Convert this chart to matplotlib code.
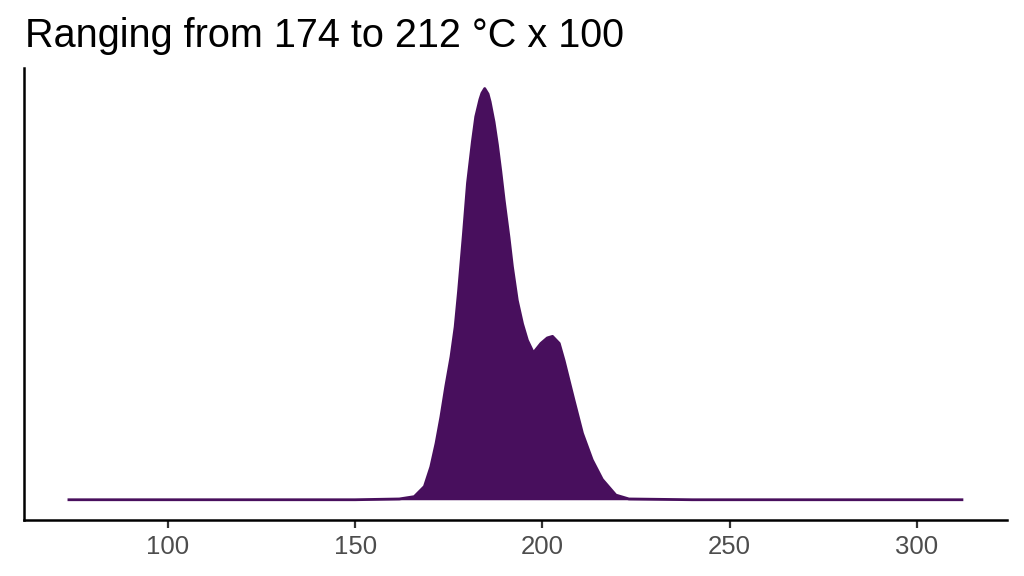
import numpy as np
import matplotlib
matplotlib.use('Agg')
import matplotlib.pyplot as plt

# density curve (temperature / 100 units, arbitrary density)
temp = [73.6, 150.0, 161.8, 165.8, 168.5, 170.2, 171.6, 172.9, 174.2, 175.6,
        176.7, 177.6, 178.9, 180.0, 181.3, 182.2, 183.3, 183.84, 184.6, 185.5,
        186.05, 187.1, 188.0, 188.9, 189.8, 191.1, 192.0, 193.3, 194.7, 196.0,
        197.6, 199.6, 201.3, 202.7, 204.5, 205.8, 208.4, 210.7, 213.3, 216.0,
        219.6, 223.1, 240.0, 312.0]
dens = [0.0, 0.0, 0.0001, 0.0004, 0.0017, 0.0042, 0.0072, 0.0106, 0.0145, 0.0183,
        0.0221, 0.0266, 0.0339, 0.0405, 0.0458, 0.0490, 0.0512, 0.0520, 0.0526, 0.0519,
        0.0509, 0.0483, 0.0454, 0.0420, 0.0383, 0.0335, 0.0298, 0.0255, 0.0225, 0.0204,
        0.0188, 0.0200, 0.0207, 0.0209, 0.0200, 0.0178, 0.0128, 0.0085, 0.0051, 0.0026,
        0.0006, 0.0001, 0.0, 0.0]
xticks = [100, 150, 200, 250, 300]
title = "Ranging from 174 to 212 \u00b0C x 100"

col = '#480f5d'

def main():
    plt.rcParams['font.family'] = ['Liberation Sans', 'DejaVu Sans']
    fig = plt.figure(figsize=(10.24, 5.76), dpi=100)
    ax = fig.add_axes([0.0237, 0.0967, 0.9593, 0.7853])

    ax.fill_between(temp, dens, 0, color=col, linewidth=0)
    ax.plot(temp, dens, color=col, linewidth=2.0, solid_joinstyle='round')

    xr = temp[-1] - temp[0]
    ax.set_xlim(temp[0] - 0.05 * xr, temp[-1] + 0.05 * xr)
    top = max(dens)
    ax.set_ylim(-0.05 * top, 1.05 * top)

    ax.set_xticks(xticks)
    ax.set_yticks([])
    ax.tick_params(axis='x', colors='#333333', labelcolor='#4d4d4d', labelsize=18.5,
                   length=5.5, width=1.6, pad=5)
    for s in ['top', 'right']:
        ax.spines[s].set_visible(False)
    for s in ['left', 'bottom']:
        ax.spines[s].set_linewidth(1.8)
        ax.spines[s].set_color('black')

    fig.text(0.0245, 0.918, title, fontsize=28.5, color='black', ha='left', va='baseline')

    fig.savefig('out.png', dpi=100)

if __name__ == "__main__":
    main()
